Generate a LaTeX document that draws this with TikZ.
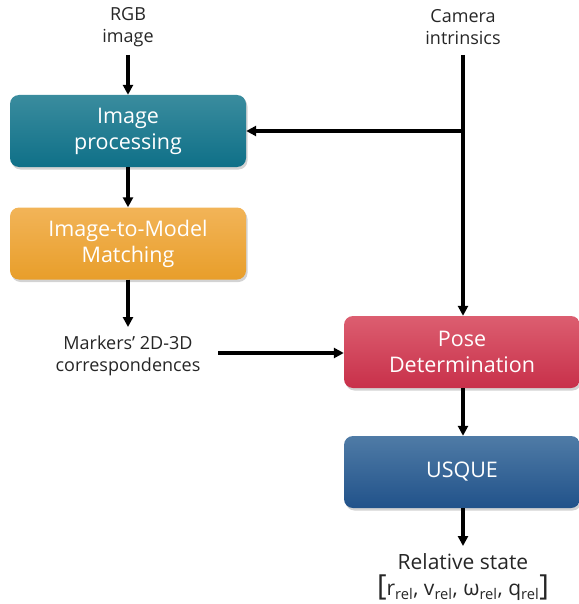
\documentclass[tikz,border=0pt]{standalone}
\usepackage{fontspec}
\setmainfont{Open Sans}
\usetikzlibrary{arrows.meta,shadows}
\definecolor{tealA}{HTML}{3A8C9E}
\definecolor{tealB}{HTML}{0F7088}
\definecolor{orgA}{HTML}{F2B458}
\definecolor{orgB}{HTML}{E89E2A}
\definecolor{redA}{HTML}{DC5E70}
\definecolor{redB}{HTML}{C8304A}
\definecolor{bluA}{HTML}{4F7BA6}
\definecolor{bluB}{HTML}{21528A}
\tikzset{
  blk/.style={rounded corners=9pt, minimum width=236pt, minimum height=72pt, inner sep=0pt,
    align=center, text=white, font=\fontsize{21.5}{26}\selectfont,
    drop shadow={shadow xshift=1.5pt, shadow yshift=-2.5pt, opacity=0.35}},
  lbl/.style={align=center, font=\fontsize{18}{22}\selectfont, text=black!85, inner sep=0pt},
  arr/.style={-{Triangle[length=10pt,width=10pt]}, line width=3.2pt},
  ln/.style={line width=3.2pt}
}
\begin{document}
\begin{tikzpicture}[x=1pt,y=-1pt]
\useasboundingbox (0,0) rectangle (578,604);
\node[lbl] (rgb) at (128,27) {RGB\\image};
\node[lbl] (cam) at (463,27) {Camera\\intrinsics};
\node[blk, top color=tealA, bottom color=tealB] (ip) at (128,131) {Image\\processing};
\node[blk, top color=orgA, bottom color=orgB] (im) at (128,243.5) {Image-to-Model\\Matching};
\node[lbl] (mk) at (128,356) {Markers' 2D-3D\\correspondences};
\node[blk, top color=redA, bottom color=redB] (pd) at (462,352) {Pose\\Determination};
\node[blk, top color=bluA, bottom color=bluB] (us) at (462,472) {USQUE};
\node[lbl, font=\fontsize{21}{26}\selectfont] (rs) at (463,577) {Relative state\\{\fontsize{29}{26}\selectfont[}r\textsubscript{rel}, v\textsubscript{rel}, ω\textsubscript{rel}, q\textsubscript{rel}{\fontsize{29}{26}\selectfont]}};
\coordinate (rgbe) at (128,55);
\coordinate (ct) at (463,55);
\coordinate (cj) at (463,131);
\coordinate (mkt) at (128,327);
\coordinate (mke) at (218,353);
\coordinate (rst) at (463,546);
\draw[arr] (rgbe) -- (ip.north);
\draw[ln] (ct) -- (cj);
\draw[arr] (cj) -- (ip.east);
\draw[arr] (cj) -- (pd.north -| cj);
\draw[arr] (ip) -- (im);
\draw[arr] (im.south) -- (mkt);
\draw[arr] (mke) -- (mke -| pd.west);
\draw[arr] (pd.south -| cj) -- (us.north -| cj);
\draw[arr] (us.south -| cj) -- (rst);
\end{tikzpicture}
\end{document}
